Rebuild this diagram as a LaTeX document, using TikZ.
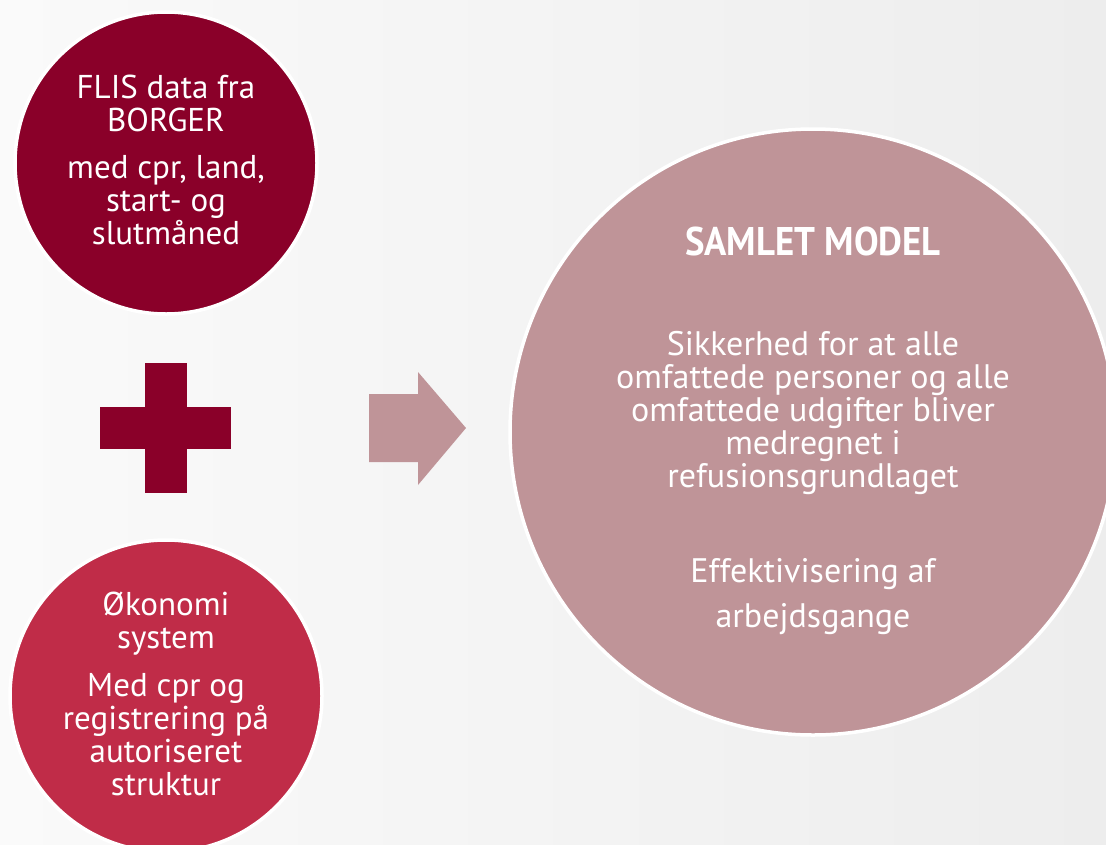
\documentclass[tikz,border=0pt]{standalone}
\usepackage{fontspec}
\setmainfont{PT Sans}
\newfontfamily\titlefont{PT Sans Bold}[FakeStretch=0.92]
\definecolor{darkred}{HTML}{8A0029}
\definecolor{midred}{HTML}{C02C48}
\definecolor{rose}{HTML}{BF9498}
\definecolor{bgA}{HTML}{FAFAFA}
\definecolor{bgB}{HTML}{EDEDED}
\tikzset{
  disc/.style={circle, draw=white, line width=3.5pt, inner sep=0pt, text=white, align=center},
  txt/.style={text=white, align=center, inner sep=0pt},
  body/.style={font=\fontsize{33}{33}\selectfont},
  bigbody/.style={font=\fontsize{34}{33}\selectfont},
}
\begin{document}
\begin{tikzpicture}[x=1pt,y=-1pt]
  \shade[left color=bgA, right color=bgB, shading angle=90] (0,0) rectangle (1106,844);
  \useasboundingbox (0,0) rectangle (1106,844);
  % big circle
  \node[disc, fill=rose, minimum size=606pt] (big) at (813,432) {};
  \node[txt, font=\titlefont\fontsize{40}{40}\selectfont] (title) at (813,241) {SAMLET MODEL};
  \node[txt, bigbody] (sik) at (813,413) {Sikkerhed for at alle\\omfattede personer og alle\\omfattede udgifter bliver\\medregnet i\\refusionsgrundlaget};
  \node[txt, font=\fontsize{34}{45}\selectfont] (eff) at (813,597) {Effektivisering af\\arbejdsgange};
  % top-left circle
  \node[disc, fill=darkred, minimum size=302pt] (flis) at (166,163) {};
  \node[txt, body] (flist) at (166,160) {FLIS data fra\\BORGER\\[14pt]med cpr, land,\\start- og\\slutmåned};
  % bottom-left circle
  \node[disc, fill=midred, minimum size=312pt] (oko) at (166,696) {};
  \node[txt, body] (okot) at (166,694) {Økonomi\\system\\[15pt]Med cpr og\\registrering på\\autoriseret\\struktur};
  % plus
  \fill[darkred] (145,363) rectangle (187,493);
  \fill[darkred] (100,407) rectangle (231,449);
  % arrow
  \fill[rose] (369,394) -- (418,394) -- (418,372) -- (466,428) -- (418,485) -- (418,462) -- (369,462) -- cycle;
\end{tikzpicture}
\end{document}
